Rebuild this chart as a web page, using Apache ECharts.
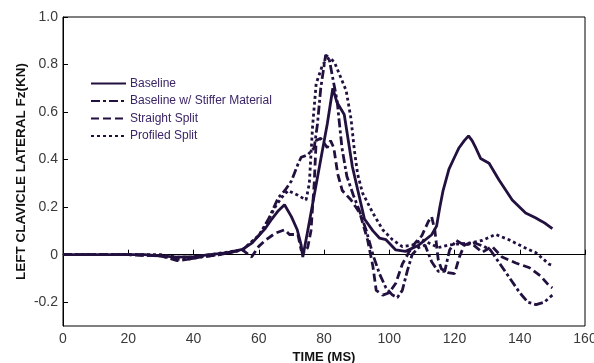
<!DOCTYPE html>
<html><head><meta charset="utf-8">
<script src="https://cdn.jsdelivr.net/npm/echarts@6/dist/echarts.min.js"></script>
<style>html,body{margin:0;padding:0;background:#fff}#c{width:594px;height:363px}</style>
</head><body><div id="c"></div>
<script>
var seriesNames = ['Baseline', 'Baseline w/ Stiffer Material', 'Straight Split', 'Profiled Split'];
var xTicks = [0, 20, 40, 60, 80, 100, 120, 140, 160];
var yTicks = [-0.2, 0, 0.2, 0.4, 0.6, 0.8, 1.0];

var baselineT = [0,10,20,25,30,35,40,45,50,55,58,60,62,64,66,67.9,70,71.8,73,73.5,75,77,79,81,82.7,84,86.2,88.7,92.4,95,97,99,102,105,109,113,114.5,115.5,116.5,118.3,120,121.4,123,124.3,125.4,126.5,128,130.6,133.6,137.7,141.8,144.8,146.8,148,150];
var baselineV = [0,0,0,0,-0.005,-0.01,-0.008,0,0.008,0.022,0.05,0.08,0.11,0.15,0.185,0.21,0.16,0.105,0.04,-0.01,0.1,0.25,0.4,0.55,0.70,0.64,0.59,0.37,0.15,0.1,0.07,0.063,0.02,0.014,0.04,0.084,0.12,0.2,0.27,0.36,0.41,0.45,0.48,0.50,0.48,0.45,0.405,0.385,0.315,0.23,0.175,0.155,0.14,0.13,0.11];

var stifferT = [0,20,30,35,38,42,48,55,60,63,66,68,70,72,73,75,77,78,79,80.5,81.5,83,84,85.5,87,89,91,93,95,97,99,101,102.5,104,105.5,107,109,111,113,115,117,118.5,120.5,123,126,129,131,134,137,140,142.5,145,147.5,150];
var stifferV = [0,0,-0.005,-0.02,-0.02,-0.01,0,0.02,0.08,0.15,0.24,0.27,0.31,0.38,0.41,0.42,0.45,0.55,0.7,0.84,0.83,0.72,0.65,0.45,0.33,0.25,0.18,0.10,0.0,-0.08,-0.14,-0.17,-0.18,-0.15,-0.07,0.0,0.03,0.04,-0.03,-0.07,-0.07,0.02,0.06,0.04,0.05,0.035,0.02,-0.04,-0.1,-0.16,-0.2,-0.21,-0.2,-0.17];

var straightT = [0,20,30,35,38,42,48,55,57.8,60,62,65,68,69.4,72,73,74,75,76,77,77.6,79,81,82,83,84.2,85.6,88.3,91,93.4,95,96,98,100,102,104,106,108,110,112,113,114,115,116,118,120,121.5,123,125,128.5,131.5,134.6,138.8,143,146.4,149,150];
var straightV = [0,0,-0.005,-0.025,-0.02,-0.01,0,0.02,-0.01,0.035,0.06,0.09,0.105,0.085,0.085,0.02,0.01,0.03,0.1,0.3,0.48,0.49,0.45,0.48,0.45,0.34,0.27,0.23,0.175,0.06,-0.05,-0.15,-0.17,-0.16,-0.12,-0.04,0.01,0.05,0.08,0.14,0.16,0.1,-0.02,-0.06,-0.075,-0.08,-0.01,0.04,0.05,0.01,0.035,-0.01,-0.035,-0.055,-0.09,-0.13,-0.14];

var profiledT = [0,20,30,35,40,45,50,55,60,62,65,67,69,72,74.5,75.5,76.5,77.6,79.6,81.6,83.2,84.7,86.8,88.3,89.3,90.3,91.8,95,98,101,104,107,110,112,115,118,121,125,128.5,132.6,136.7,140.7,145,149,150];
var profiledV = [0,0,0,-0.01,-0.01,0,0.01,0.02,0.08,0.12,0.2,0.24,0.27,0.25,0.23,0.30,0.54,0.72,0.80,0.83,0.81,0.76,0.69,0.57,0.44,0.34,0.26,0.175,0.105,0.063,0.034,0.04,0.063,0.05,0.03,0.04,0.045,0.05,0.06,0.085,0.063,0.035,0.008,-0.04,-0.045];

function zip(t, v) { return t.map(function (x, i) { return [x, v[i]]; }); }

var lineColor = '#22103f';
var dashes = ['solid', [9, 3, 3, 3], [8, 4], [3, 3]];
var dataSets = [zip(baselineT, baselineV), zip(stifferT, stifferV), zip(straightT, straightV), zip(profiledT, profiledV)];

var chart = echarts.init(document.getElementById('c'), null, { renderer: 'canvas' });
chart.setOption({
  animation: false,
  backgroundColor: '#fff',
  grid: { left: 63, right: 9, top: 17, bottom: 37, outerBoundsMode: 'none', containLabel: false, show: true, borderColor: '#000', borderWidth: 1, backgroundColor: 'transparent' },
  legend: {
    orient: 'vertical', left: 90, top: 77.5, padding: 0, itemWidth: 35, itemHeight: 12, itemGap: 5.5,
    itemStyle: { color: 'rgba(0,0,0,0)', borderColor: 'rgba(0,0,0,0)', borderWidth: 0 },
    textStyle: { fontFamily: 'Liberation Sans, Arial', fontSize: 12, color: '#3b2566', padding: [0, 0, 0, -1] },
    data: seriesNames
  },
  xAxis: {
    type: 'value', min: 0, max: 160, interval: 20,
    name: 'TIME (MS)', nameLocation: 'middle', nameGap: 22,
    nameTextStyle: { fontFamily: 'Liberation Sans, Arial', fontWeight: 'bold', fontSize: 13, color: '#111' },
    axisLine: { lineStyle: { color: '#000', width: 1 } },
    axisTick: { inside: true, length: 5, lineStyle: { color: '#000' } },
    axisLabel: { fontFamily: 'Liberation Sans, Arial', fontSize: 14, color: '#3a3a3a', margin: 6 },
    splitLine: { show: false }
  },
  yAxis: {
    type: 'value', min: -0.3, max: 1.0, interval: 0.1,
    name: 'LEFT CLAVICLE LATERAL Fz(KN)', nameLocation: 'middle', nameGap: 35, nameMoveOverlap: false,
    nameTextStyle: { fontFamily: 'Liberation Sans, Arial', fontWeight: 'bold', fontSize: 13.5, color: '#111' },
    axisLine: { show: true, lineStyle: { color: '#000', width: 1 } },
    axisTick: { show: true, inside: true, length: 5, lineStyle: { color: '#000' }, customValues: yTicks },
    axisLabel: {
      fontFamily: 'Liberation Sans, Arial', fontSize: 14, color: '#3a3a3a', margin: 5,
      customValues: yTicks,
      formatter: function (v) { var r = Math.round(v * 10) / 10; return r === 0 ? '0' : r.toFixed(1); }
    },
    splitLine: { show: false }
  },
  series: dataSets.map(function (d, i) {
    return {
      name: seriesNames[i], type: 'line', data: d, showSymbol: false, symbol: 'none', smooth: false,
      lineStyle: { color: lineColor, width: 2.8, type: dashes[i], cap: 'butt' },
      itemStyle: { color: lineColor }
    };
  })
});
</script>
</body></html>
